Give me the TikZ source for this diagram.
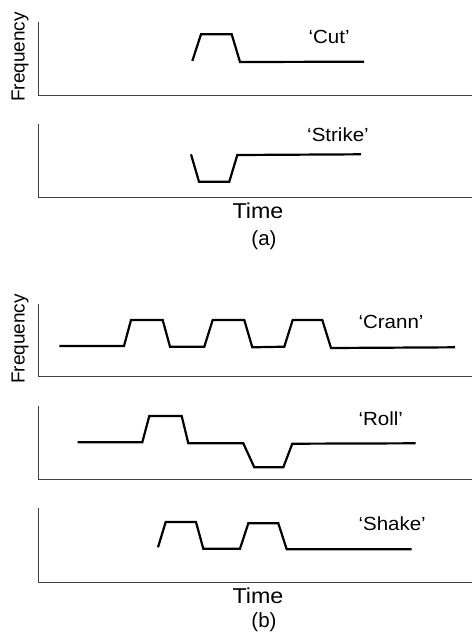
\documentclass[tikz,border=0pt]{standalone}
\usepackage{fontspec}
\setmainfont{Liberation Sans}
\begin{document}
\begin{tikzpicture}[x=1pt,y=-1pt,
  axis/.style={draw=black!75,line width=1pt},
  sig/.style={draw=black,line width=2.2pt,line join=miter},
  lbl/.style={inner sep=0pt,anchor=base west,font=\fontsize{19}{22}\selectfont,xscale=1.08},
  tlbl/.style={inner sep=0pt,anchor=base,font=\fontsize{21.5}{25}\selectfont,xscale=1.08},
  sublbl/.style={inner sep=0pt,anchor=base,font=\fontsize{20.5}{24}\selectfont},
  flbl/.style={inner sep=0pt,anchor=center,rotate=90,font=\fontsize{19}{22}\selectfont}]
\useasboundingbox (0,0) rectangle (472,633);
% ---- (a) ----
% Cut panel
\draw[axis] (38.3,21.7) -- (38.3,95) -- (472,95);
\draw[sig] (192.3,61) -- (201,34.3) -- (231.7,34.3) -- (240,62) -- (364,61.7);
\node[lbl] (cut) at (308.3,43) {‘Cut’};
% Strike panel
\draw[axis] (38.3,124.3) -- (38.3,197.3) -- (472,197.3);
\draw[sig] (191,154.3) -- (199,181.7) -- (229.3,181.7) -- (237.3,155) -- (361,154.3);
\node[lbl] (strike) at (307,141.7) {‘Strike’};
\node[flbl] (freqa) at (20,57) {Frequency};
\node[tlbl] (timea) at (258,218.5) {Time};
\node[sublbl] (suba) at (264,245) {(a)};
% ---- (b) ----
% Crann panel
\draw[axis] (38.3,304) -- (38.3,376.7) -- (472,376.7);
\draw[sig] (59.3,346) -- (124,346) -- (131,320) -- (162.7,320) -- (170,346.7) -- (204.3,346.7)
  -- (212.7,320) -- (244.3,320) -- (252.3,347.3) -- (284.3,346.7) -- (292.7,320) -- (322.3,320)
  -- (331,348) -- (455,347.3);
\node[lbl] (crann) at (358.3,328.3) {‘Crann’};
% Roll panel
\draw[axis] (38.3,406) -- (38.3,479.3) -- (472,479.3);
\draw[sig] (77.7,442.3) -- (142.3,442.3) -- (149.3,416) -- (181.7,416) -- (188.3,443.3) -- (243.3,443.3)
  -- (254.3,467.3) -- (283.3,467.3) -- (292.3,443.7) -- (415.7,443.3);
\node[lbl] (roll) at (358.3,425) {‘Roll’};
% Shake panel
\draw[axis] (38.3,508.3) -- (38.3,582) -- (472,582);
\draw[sig] (158,547.3) -- (165.7,522) -- (196,522) -- (203.3,548.7) -- (240,548.7) -- (248.3,523.3)
  -- (278.3,523.3) -- (286.7,549.3) -- (411.7,549.3);
\node[lbl] (shake) at (358.3,530) {‘Shake’};
\node[flbl] (freqb) at (20,339) {Frequency};
\node[tlbl] (timeb) at (258,603) {Time};
\node[sublbl] (subb) at (264,627.5) {(b)};
\end{tikzpicture}
\end{document}
